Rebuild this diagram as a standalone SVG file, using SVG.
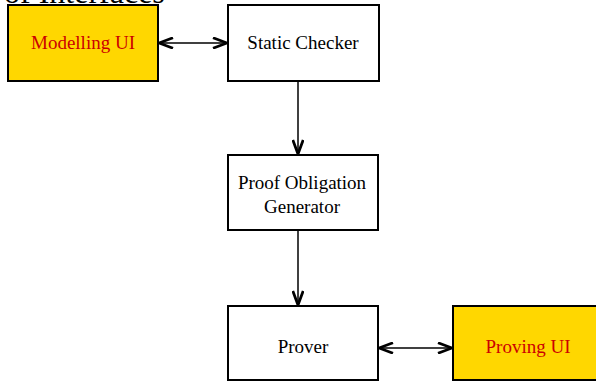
<svg xmlns="http://www.w3.org/2000/svg" width="596" height="381" viewBox="0 0 596 381">
  <style>
    .box { fill: #ffffff; stroke: #000000; stroke-width: 2; }
    .ui { fill: #ffd700; stroke: #000000; stroke-width: 2; }
    .label { font-family: "Liberation Serif", "Times New Roman", serif; font-size: 19px; text-anchor: middle; fill: #000000; }
    .uilabel { font-family: "Liberation Serif", "Times New Roman", serif; font-size: 19px; text-anchor: middle; fill: #cc0000; }
    .title { font-family: "Liberation Serif", "Times New Roman", serif; font-size: 32px; fill: #000000; }
    .edge { stroke: #000000; stroke-width: 1.5; fill: none; }
  </style>
  <defs>
    <marker id="head" viewBox="0 0 16 12" refX="15" refY="6" markerWidth="16" markerHeight="12" markerUnits="userSpaceOnUse" orient="auto-start-reverse">
      <path d="M1,0.8 L15,6 L1,11.2" fill="none" stroke="#000000" stroke-width="2.8"/>
    </marker>
  </defs>
  <rect width="596" height="381" fill="#ffffff"/>

  <text class="title" x="4" y="3">of Interfaces</text>

  <g id="connectors">
    <line class="edge" x1="159" y1="43" x2="227" y2="43" marker-start="url(#head)" marker-end="url(#head)"/>
    <line class="edge" x1="298" y1="81" x2="298" y2="154" marker-end="url(#head)"/>
    <line class="edge" x1="298" y1="231" x2="298" y2="305" marker-end="url(#head)"/>
    <line class="edge" x1="379" y1="348" x2="452" y2="348" marker-start="url(#head)" marker-end="url(#head)"/>
  </g>

  <g id="modelling-ui">
    <rect class="ui" x="8" y="5" width="150" height="76"/>
    <text class="uilabel" x="83" y="49">Modelling UI</text>
  </g>

  <g id="static-checker">
    <rect class="box" x="228" y="5" width="151" height="76"/>
    <text class="label" x="303" y="49">Static Checker</text>
  </g>

  <g id="proof-obligation-generator">
    <rect class="box" x="228" y="155" width="150" height="75"/>
    <text class="label" x="302" y="189">Proof Obligation</text>
    <text class="label" x="302" y="213">Generator</text>
  </g>

  <g id="prover">
    <rect class="box" x="228" y="306" width="150" height="74"/>
    <text class="label" x="303" y="353">Prover</text>
  </g>

  <g id="proving-ui">
    <rect class="ui" x="453" y="306" width="150" height="74"/>
    <text class="uilabel" x="528" y="353">Proving UI</text>
  </g>
</svg>
